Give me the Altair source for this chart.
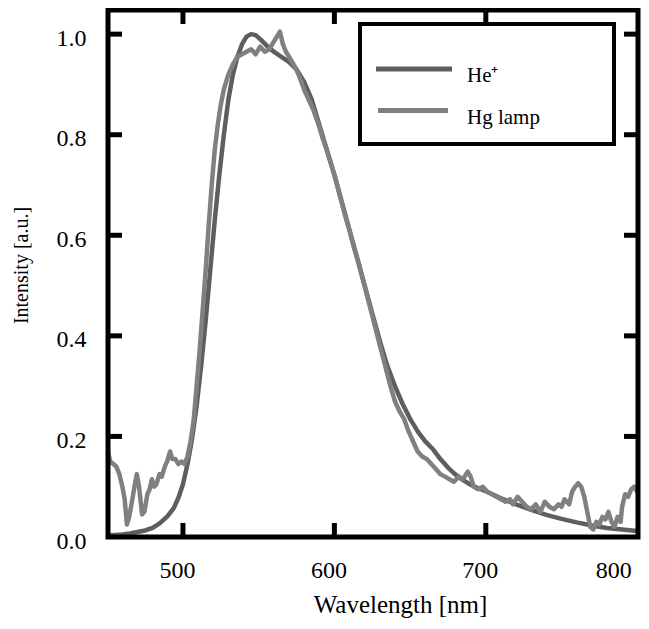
import altair as alt
import pandas as pd

# ---------------- data ----------------
he_nm = [448, 455, 460, 465, 470, 475, 480, 485, 490, 494, 497, 500, 503, 506, 509, 512,
         515, 518, 521, 524, 527, 530, 533, 536, 539, 542, 545, 548, 551, 555, 560, 565,
         570, 575, 580, 585, 590, 595, 600, 605, 610, 615, 620, 625, 630, 635, 640, 645,
         650, 655, 660, 665, 670, 675, 680, 685, 690, 695, 700, 705, 710, 720, 730, 740,
         750, 760, 770, 780, 790, 800, 802]
he_val = [0.003, 0.004, 0.005, 0.007, 0.010, 0.013, 0.018, 0.028, 0.042, 0.058, 0.078, 0.105,
          0.145, 0.195, 0.26, 0.34, 0.43, 0.53, 0.63, 0.72, 0.80, 0.87, 0.92, 0.955, 0.98,
          0.995, 1.0, 0.998, 0.99, 0.978, 0.965, 0.955, 0.945, 0.93, 0.905, 0.87, 0.82, 0.77,
          0.72, 0.665, 0.61, 0.555, 0.50, 0.445, 0.39, 0.34, 0.30, 0.265, 0.235, 0.21, 0.19,
          0.175, 0.155, 0.138, 0.124, 0.113, 0.104, 0.097, 0.091, 0.084, 0.077, 0.065, 0.054,
          0.044, 0.036, 0.029, 0.023, 0.018, 0.015, 0.012, 0.011]

hg_nm = [448, 450, 452, 454, 456, 458, 460, 461.5, 463, 464.5, 466, 468, 469.5, 471, 473,
         474.5, 476.5, 478, 479.5, 481, 482.5, 484.5, 486, 488, 489.5, 491.5, 493, 495, 497,
         499, 501, 503, 505, 507, 509, 511, 513, 515, 517, 519, 521, 523, 525, 527, 530, 533,
         536, 539, 542, 545, 548, 551, 554, 557, 560, 562, 564, 566, 568, 571, 574, 577, 580,
         583, 586, 589, 592, 595, 598, 601, 604, 607, 610, 613, 616, 619, 622, 625, 628, 631,
         634, 637, 640, 643, 646, 649, 652, 655, 658, 661, 664, 667, 670, 673, 676, 679, 682,
         685, 688, 690, 692, 695, 698, 701, 704, 707, 710, 713, 716, 718, 721, 724, 727, 730,
         733, 736, 739, 742, 745, 748, 750, 752, 755, 757, 759, 761, 763, 765, 767, 769, 771,
         773, 775, 777, 779, 781, 783, 785, 787, 789, 790, 792, 794, 796, 798, 800, 802]
hg_val = [0.18, 0.175, 0.15, 0.145, 0.14, 0.125, 0.10, 0.075, 0.025, 0.04, 0.065, 0.10, 0.125,
          0.10, 0.045, 0.05, 0.085, 0.095, 0.115, 0.10, 0.105, 0.125, 0.12, 0.14, 0.15, 0.17,
          0.155, 0.155, 0.145, 0.15, 0.145, 0.16, 0.19, 0.23, 0.30, 0.37, 0.45, 0.53, 0.62,
          0.70, 0.77, 0.82, 0.86, 0.89, 0.92, 0.94, 0.955, 0.96, 0.965, 0.97, 0.96, 0.975,
          0.965, 0.97, 0.985, 0.995, 1.005, 0.98, 0.965, 0.95, 0.935, 0.915, 0.89, 0.87, 0.85,
          0.825, 0.795, 0.77, 0.74, 0.71, 0.675, 0.64, 0.61, 0.575, 0.545, 0.51, 0.475, 0.44,
          0.405, 0.37, 0.335, 0.30, 0.27, 0.25, 0.235, 0.21, 0.19, 0.17, 0.16, 0.155, 0.145,
          0.135, 0.125, 0.12, 0.115, 0.11, 0.12, 0.115, 0.13, 0.12, 0.10, 0.095, 0.10, 0.09,
          0.085, 0.08, 0.075, 0.07, 0.075, 0.065, 0.08, 0.07, 0.06, 0.055, 0.065, 0.05, 0.07,
          0.06, 0.055, 0.065, 0.06, 0.075, 0.065, 0.09, 0.10, 0.107, 0.10, 0.08, 0.05, 0.02,
          0.015, 0.03, 0.025, 0.04, 0.035, 0.05, 0.03, 0.02, 0.04, 0.03, 0.06, 0.085, 0.08,
          0.095, 0.10, 0.09, 0.10]

series_names = ["He\u207a", "Hg lamp"]
series_colors = ["#5e5e5e", "#808080"]

x_ticks = [500, 600, 700, 800]
y_ticks = [0.0, 0.2, 0.4, 0.6, 0.8, 1.0]

X_DOMAIN = [450.5, 800.5]
Y_DOMAIN = [0, 1.048]

FONT = "Liberation Serif"

# ---------------- tables ----------------
df = pd.concat([
    pd.DataFrame({"nm": he_nm, "val": he_val, "series": series_names[0]}),
    pd.DataFrame({"nm": hg_nm, "val": hg_val, "series": series_names[1]}),
], ignore_index=True)

inner_x = [t for t in x_ticks if X_DOMAIN[0] + 2 < t < X_DOMAIN[1] - 2]
inner_y = [t for t in y_ticks if Y_DOMAIN[0] < t < Y_DOMAIN[1]]
xtick_df = pd.DataFrame({"nm": inner_x * 2,
                         "val": [Y_DOMAIN[0]] * len(inner_x) + [Y_DOMAIN[1]] * len(inner_x)})
ytick_df = pd.DataFrame({"val": inner_y * 2,
                         "nm": [X_DOMAIN[0]] * len(inner_y) + [X_DOMAIN[1]] * len(inner_y)})

xscale = alt.Scale(domain=X_DOMAIN, nice=False, zero=False)
yscale = alt.Scale(domain=Y_DOMAIN, nice=False, zero=False)

x_axis = alt.Axis(values=x_ticks, title="Wavelength [nm]", ticks=False, domain=False,
                  grid=False, labelFont=FONT, labelFontSize=24, labelColor="black",
                  labelPadding=21, labelOffset=-6,
                  titleFont=FONT, titleFontSize=25, titleFontWeight="normal",
                  titleColor="black", titleX=292, titleY=55)
y_axis = alt.Axis(values=y_ticks, format=".1f", title="Intensity [a.u.]", ticks=False,
                  domain=False, grid=False, labelFont=FONT, labelFontSize=24,
                  labelColor="black", labelPadding=22, labelOffset=4,
                  titleFont=FONT, titleFontSize=20, titleFontWeight="normal",
                  titleColor="black", titleX=-87, titleY=255, titleBaseline="middle")

x_enc = alt.X("nm:Q", scale=xscale, axis=x_axis)
y_enc = alt.Y("val:Q", scale=yscale, axis=y_axis)

lines = alt.Chart(df).mark_line(strokeWidth=4.5, clip=True, strokeJoin="round").encode(
    x=x_enc, y=y_enc,
    color=alt.Color("series:N", scale=alt.Scale(domain=series_names, range=series_colors),
                    legend=None),
)

xticks_layer = alt.Chart(xtick_df).mark_tick(orient="vertical", size=28, thickness=5,
                                              color="black", opacity=1, clip=True).encode(
    x=x_enc, y=y_enc)
yticks_layer = alt.Chart(ytick_df).mark_tick(orient="horizontal", size=28, thickness=5,
                                              color="black", opacity=1, clip=True).encode(
    x=x_enc, y=y_enc)

# plot frame
frame = alt.Chart(pd.DataFrame({"k": [0]})).mark_rect(
    fill="transparent", stroke="black", strokeWidth=5).encode(
    x=alt.value(0), x2=alt.value("width"), y=alt.value(0), y2=alt.value("height"))

# ---------------- legend box ----------------
leg_box = alt.Chart(pd.DataFrame({"k": [0]})).mark_rect(
    fill="white", stroke="black", strokeWidth=4).encode(
    x=alt.value(252), x2=alt.value(506), y=alt.value(14), y2=alt.value(134))

leg_layers = [leg_box]
sym_x = [(268, 344), (270, 340)]
for i, (name, col) in enumerate(zip(series_names, series_colors)):
    yy = 59 + 41.5 * i
    ldf = pd.DataFrame({"label": [name]})
    leg_layers.append(alt.Chart(ldf).mark_rule(color=col, strokeWidth=5).encode(
        x=alt.value(sym_x[i][0]), x2=alt.value(sym_x[i][1]), y=alt.value(yy)))
    leg_layers.append(alt.Chart(ldf).mark_text(align="left", baseline="alphabetic",
                                               font=FONT, fontSize=21, color="black").encode(
        x=alt.value(359), y=alt.value(yy + 13), text="label:N"))

chart = alt.layer(lines, xticks_layer, yticks_layer, frame, *leg_layers).properties(
    width=530, height=527,
    background="white",
    autosize=alt.AutoSizeParams(type="none"),
    padding={"left": 100, "top": 2, "right": 3, "bottom": 88},
).configure_view(strokeWidth=0)

chart.save("out.html", embed_options={"renderer": "svg", "actions": False})
